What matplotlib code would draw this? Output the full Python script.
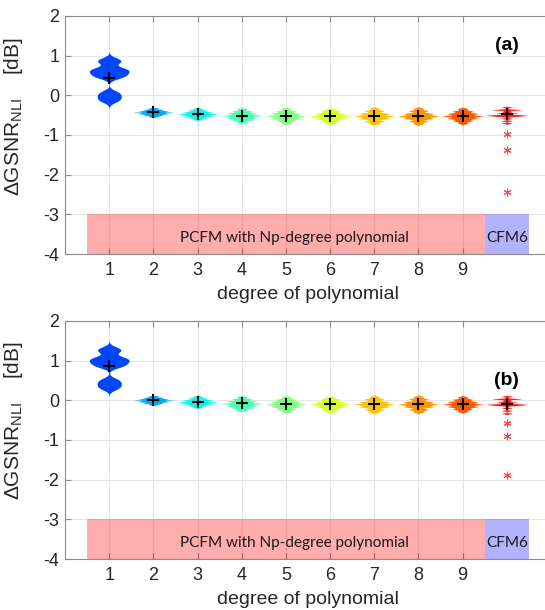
import numpy as np
import matplotlib.pyplot as plt

plt.rcParams['font.family'] = ['Liberation Sans', 'DejaVu Sans']
plt.rcParams['mathtext.fontset'] = 'custom'
plt.rcParams['mathtext.rm'] = 'Liberation Sans'
plt.rcParams['axes.unicode_minus'] = False

DEGREES = [1, 2, 3, 4, 5, 6, 7, 8, 9]
CFM_POS = 10
COLORS = ['#0046ff', '#00aaff', '#0ff5e6', '#45ffb4', '#82ff82',
          '#d6ff2a', '#ffc400', '#ff9600', '#ff5a00', '#ff1e1e']
AXIS_GRAY = '#8c8c8c'
TEXT_GRAY = '#262626'

# (a) GSNR_NLI error samples per polynomial degree
pcfm_a = [
    [-0.15, -0.09, -0.03, 0.03, 0.09, 0.44, 0.48, 0.52, 0.56, 0.60, 0.63, 0.66, 0.70, 0.82, 0.87, 0.92],
    [-0.325, -0.36, -0.36, -0.395, -0.395, -0.395, -0.43, -0.43, -0.43, -0.43, -0.465, -0.465, -0.465, -0.50, -0.50, -0.535],
    [-0.335, -0.38, -0.38, -0.425, -0.425, -0.425, -0.47, -0.47, -0.47, -0.47, -0.515, -0.515, -0.515, -0.56, -0.56, -0.605],
    [-0.345, -0.40, -0.40, -0.455, -0.455, -0.455, -0.51, -0.51, -0.51, -0.51, -0.565, -0.565, -0.565, -0.62, -0.62, -0.675],
    [-0.34, -0.40, -0.40, -0.46, -0.46, -0.46, -0.52, -0.52, -0.52, -0.52, -0.58, -0.58, -0.58, -0.64, -0.64, -0.70],
    [-0.35, -0.40, -0.40, -0.46, -0.46, -0.46, -0.52, -0.52, -0.52, -0.52, -0.58, -0.58, -0.58, -0.64, -0.64, -0.69],
    [-0.33, -0.39, -0.39, -0.46, -0.46, -0.46, -0.52, -0.52, -0.52, -0.52, -0.58, -0.58, -0.58, -0.65, -0.65, -0.71],
    [-0.33, -0.39, -0.39, -0.46, -0.46, -0.46, -0.52, -0.52, -0.52, -0.52, -0.58, -0.58, -0.58, -0.65, -0.65, -0.71],
    [-0.34, -0.40, -0.40, -0.46, -0.46, -0.46, -0.52, -0.52, -0.52, -0.52, -0.58, -0.58, -0.58, -0.64, -0.64, -0.70],
]
cfm6_a = [-0.30, -0.36, -0.36, -0.37, -0.41, -0.45, -0.45, -0.49, -0.50, -0.50, -0.51, -0.52, -0.53, -0.58, -0.64, -0.70]
outliers_a = [-0.97, -1.38, -2.43]

# (b)
pcfm_b = [
    [0.29, 0.35, 0.41, 0.47, 0.53, 0.84, 0.88, 0.92, 0.96, 1.00, 1.03, 1.06, 1.10, 1.22, 1.27, 1.32],
    [0.105, 0.07, 0.07, 0.035, 0.035, 0.035, 0.0, 0.0, 0.0, 0.0, -0.035, -0.035, -0.035, -0.07, -0.07, -0.105],
    [0.095, 0.05, 0.05, 0.005, 0.005, 0.005, -0.04, -0.04, -0.04, -0.04, -0.085, -0.085, -0.085, -0.13, -0.13, -0.175],
    [0.085, 0.03, 0.03, -0.025, -0.025, -0.025, -0.08, -0.08, -0.08, -0.08, -0.135, -0.135, -0.135, -0.19, -0.19, -0.245],
    [0.08, 0.02, 0.02, -0.04, -0.04, -0.04, -0.10, -0.10, -0.10, -0.10, -0.16, -0.16, -0.16, -0.22, -0.22, -0.28],
    [0.07, 0.02, 0.02, -0.04, -0.04, -0.04, -0.10, -0.10, -0.10, -0.10, -0.16, -0.16, -0.16, -0.22, -0.22, -0.27],
    [0.09, 0.03, 0.03, -0.04, -0.04, -0.04, -0.10, -0.10, -0.10, -0.10, -0.16, -0.16, -0.16, -0.23, -0.23, -0.29],
    [0.09, 0.03, 0.03, -0.04, -0.04, -0.04, -0.10, -0.10, -0.10, -0.10, -0.16, -0.16, -0.16, -0.23, -0.23, -0.29],
    [0.08, 0.02, 0.02, -0.04, -0.04, -0.04, -0.10, -0.10, -0.10, -0.10, -0.16, -0.16, -0.16, -0.22, -0.22, -0.28],
]
cfm6_b = [0.10, 0.04, 0.04, 0.03, -0.01, -0.05, -0.05, -0.09, -0.10, -0.10, -0.11, -0.12, -0.13, -0.19, -0.26, -0.33]
outliers_b = [-0.58, -0.91, -1.89]

BANDWIDTHS = [0.062, 0.012, 0.015, 0.018, 0.02, 0.02, 0.021, 0.021, 0.02, 0.012]


def draw_violin(ax, x, values, bw, color, half_width=0.45):
    values = np.asarray(values)
    y = np.linspace(values.min() - 3 * bw, values.max() + 3 * bw, 600)
    dens = np.exp(-0.5 * ((y[:, None] - values[None, :]) / bw) ** 2).sum(axis=1)
    w = dens / dens.max() * half_width
    ax.fill_betweenx(y, x - w, x + w, color=color, lw=0, zorder=3)
    ax.plot(x, values.mean(), marker='+', color='k', ms=9, mew=1.5, zorder=5)


def draw_panel(ax, pcfm, cfm6, outliers, tag, tag_y, ylabel_y):
    for i, vals in enumerate(pcfm):
        draw_violin(ax, DEGREES[i], vals, BANDWIDTHS[i], COLORS[i])
    draw_violin(ax, CFM_POS, cfm6, BANDWIDTHS[-1], COLORS[-1])
    # outliers as asterisks
    ax.plot([CFM_POS] * len(outliers), outliers, ls='none', marker=(6, 2, 0),
            color='#ff4040', ms=5.5, mew=0.7, zorder=4)

    # method bands along the bottom
    ax.add_patch(plt.Rectangle((0.5, -4), 9, 1, color='red', alpha=0.32, lw=0, zorder=2))
    ax.add_patch(plt.Rectangle((9.5, -4), 1, 1, color='blue', alpha=0.3, lw=0, zorder=2))
    ax.text(5.2, -3.6, 'PCFM with Np-degree polynomial', family='Lato',
            fontsize=11, ha='center', va='center', color='#1a1a1a', zorder=4)
    ax.text(10.0, -3.6, 'CFM6', family='Lato', fontsize=11,
            ha='center', va='center', color='#1a1a1a', zorder=4)
    ax.text(10.0, tag_y, tag, fontsize=14, fontweight='bold',
            ha='center', va='center', color='k')

    ax.set_xlim(0, 11)
    ax.set_ylim(-4, 2)
    ax.set_xticks(DEGREES)
    ax.set_yticks(range(-4, 3))
    ax.grid(True, color='#e6e6e6', lw=0.8, zorder=0)
    ax.set_axisbelow(True)
    ax.tick_params(direction='in', top=True, right=True, length=4,
                   color=AXIS_GRAY, labelcolor=TEXT_GRAY, labelsize=13)
    ax.tick_params(axis='x', pad=6)
    ax.tick_params(axis='y', pad=4)
    for s in ax.spines.values():
        s.set_color(AXIS_GRAY)
        s.set_linewidth(0.8)

    ax.set_xlabel('degree of polynomial', fontsize=14, color=TEXT_GRAY, labelpad=5)
    ax.set_ylabel(r'$\Delta$GSNR$_{\mathrm{NLI}}$    [dB]', fontsize=15, color=TEXT_GRAY)
    ax.yaxis.set_label_coords(-0.082, ylabel_y)


fig = plt.figure(figsize=(5.45, 6.10), dpi=100)
ax_a = fig.add_axes([0.1193, 0.5836, 0.8917, 0.3902])
ax_b = fig.add_axes([0.1193, 0.0836, 0.8917, 0.3902])

draw_panel(ax_a, pcfm_a, cfm6_a, outliers_a, '(a)', 1.25, 0.575)
draw_panel(ax_b, pcfm_b, cfm6_b, outliers_b, '(b)', 0.5, 0.58)

fig.savefig('out.png', dpi=100)
